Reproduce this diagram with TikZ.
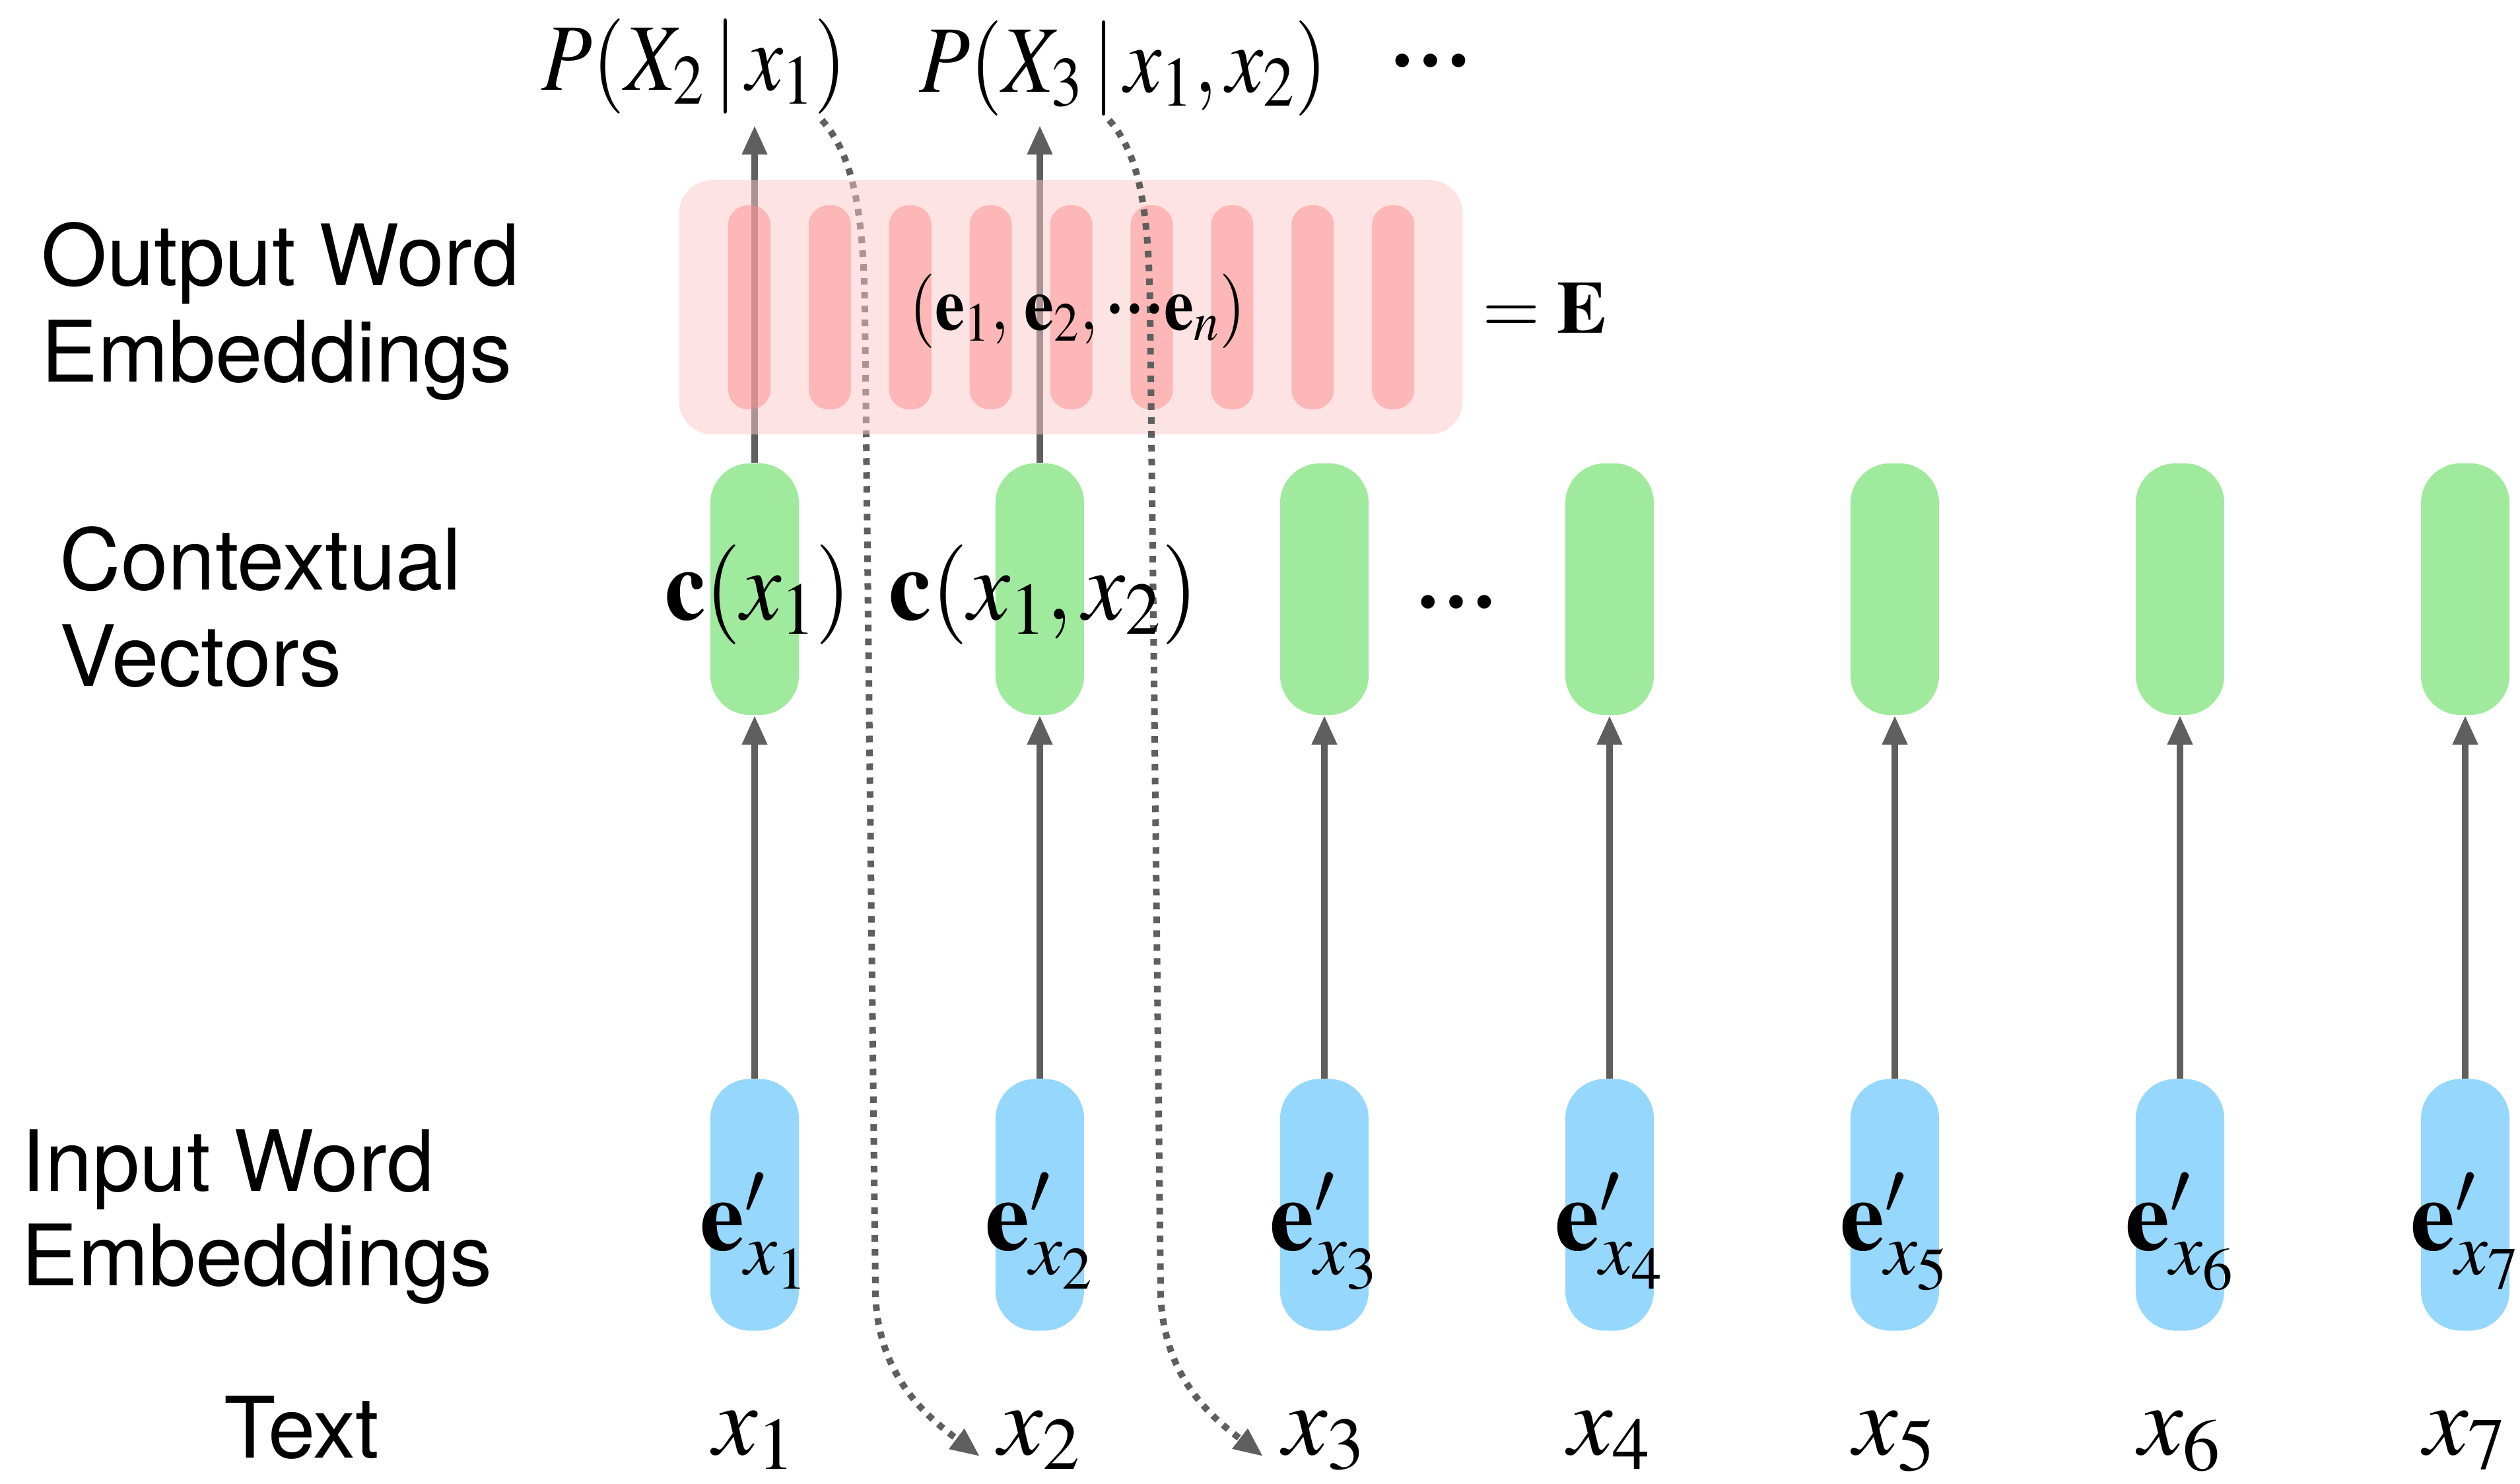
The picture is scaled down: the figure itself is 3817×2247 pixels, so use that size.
\documentclass[tikz,border=0pt]{standalone}
\usepackage{mathptmx}
\usepackage{graphicx}
\usepackage[no-math]{fontspec}
\newfontfamily\hv{TeX Gyre Heros}
\newfontfamily\tms{Liberation Serif}
\usetikzlibrary{arrows.meta}
\definecolor{greenfill}{RGB}{160,234,158}
\definecolor{bluefill}{RGB}{150,215,253}
\definecolor{pinkbox}{RGB}{252,200,200}
\definecolor{pinkstripe}{RGB}{253,141,141}
\definecolor{agray}{RGB}{95,95,95}
\begin{document}
\begin{tikzpicture}[x=0.01cm,y=-0.01cm,
  vec/.style={minimum width=1.34cm, minimum height=3.81cm, rounded corners=0.6cm, inner sep=0, draw=none},
  greenvec/.style={vec, fill=greenfill},
  bluevec/.style={vec, fill=bluefill},
  stripe/.style={minimum width=0.64cm, minimum height=3.09cm, rounded corners=0.3cm, inner sep=0, fill=pinkstripe, fill opacity=0.5},
  bigbox/.style={minimum width=11.86cm, minimum height=3.85cm, rounded corners=0.5cm, inner sep=0, fill=pinkbox, fill opacity=0.5},
  arr/.style={draw=agray, line width=0.1cm, -{Triangle[length=0.44cm,width=0.36cm]}},
  dotarr/.style={arr, dash pattern=on 0.1cm off 0.11cm},
  lbl/.style={inner sep=0, anchor=base west, font=\hv\fontsize{36.5}{44}\selectfont},
  topm/.style={inner sep=0, anchor=base west, font=\fontsize{41}{48}\selectfont},
  midm/.style={inner sep=0, font=\fontsize{43}{50}\selectfont},
  smallm/.style={inner sep=0, font=\fontsize{32}{38}\selectfont},
  dots/.style={inner sep=0, anchor=base west, font=\tms\bfseries\fontsize{36}{40}\selectfont}
]
\useasboundingbox (0,0) rectangle (3817,2247);

% row labels
\node[lbl] (lo1) at (62,432) {Output Word};
\node[lbl] (lo2) at (62,578) {Embeddings};
\node[lbl] (lc1) at (90,893) {Contextual};
\node[lbl] (lc2) at (90,1039) {Vectors};
\node[lbl] (li1) at (32,1804) {Input Word};
\node[lbl] (li2) at (32,1947) {Embeddings};
\node[lbl] (lt) at (339,2208) {Text};

% columns
\foreach \i/\x in {1/1143,2/1575,3/2006,4/2438,5/2870,6/3302,7/3734}{
  \node[greenvec] (c\i) at (\x,892.5) {};
  \node[bluevec] (b\i) at (\x,1825) {};
  \node[midm, anchor=base] (e\i) at (\x,1893) {$\mathbf{e}'_{x_{\i}}$};
  \node[midm, anchor=base] (x\i) at (\x,2203) {$x_{\i}$};
  \draw[arr] (b\i.north) -- (c\i.south);
}

% top arrows
\coordinate (t1) at (1143,190);
\coordinate (t2) at (1575,190);
\draw[arr] (c1.north) -- (t1);
\draw[arr] (c2.north) -- (t2);

% first dotted connector (below the embedding box)
\coordinate (d1s) at (1245,182);
\coordinate (d1e) at (1484,2206);
\draw[dotarr] (d1s) .. controls (1292,235) and (1308,320) .. (1310,470)
  -- (1326,1960) .. controls (1330,2090) and (1410,2150) .. (d1e);

% output embedding matrix
\node[bigbox] (E) at (1622,465.5) {};
\foreach \k in {0,...,8}{
  \node[stripe] (s\k) at ({1135+121.9*\k},465.5) {};
}

% second dotted connector (above the box)
\coordinate (d2s) at (1680,182);
\coordinate (d2e) at (1913,2206);
\draw[dotarr] (d2s) .. controls (1727,235) and (1740,320) .. (1742,470)
  -- (1758,1960) .. controls (1762,2090) and (1840,2150) .. (d2e);

% texts
\node[smallm, anchor=base] (elist) at (1632,499) {\scalebox{0.9}[1]{$(\mathbf{e}_1,\,\mathbf{e}_2,\,$\raisebox{0.22em}{\tms\bfseries\fontsize{28}{30}\selectfont …}$\mathbf{e}_n)$}};
\node[smallm, anchor=base west] (eqE) at (2245,504) {$=\mathbf{E}$};

\node[topm] (p1) at (820,136) {\scalebox{0.87}[1]{$P(X_2\,|\,x_1)$}};
\node[topm] (p2) at (1392,139) {\scalebox{0.875}[1]{$P(X_3\,|\,x_1,x_2)$}};
\node[dots] (pd) at (2103,100) {…};

\node[midm, anchor=base west] (cx1) at (1007,938) {\scalebox{0.91}[1]{$\mathbf{c}(x_1)$}};
\node[midm, anchor=base west] (cx2) at (1346,938) {\scalebox{0.95}[1]{$\mathbf{c}(x_1,x_2)$}};
\node[dots] (cd) at (2142,920) {…};
\end{tikzpicture}
\end{document}
